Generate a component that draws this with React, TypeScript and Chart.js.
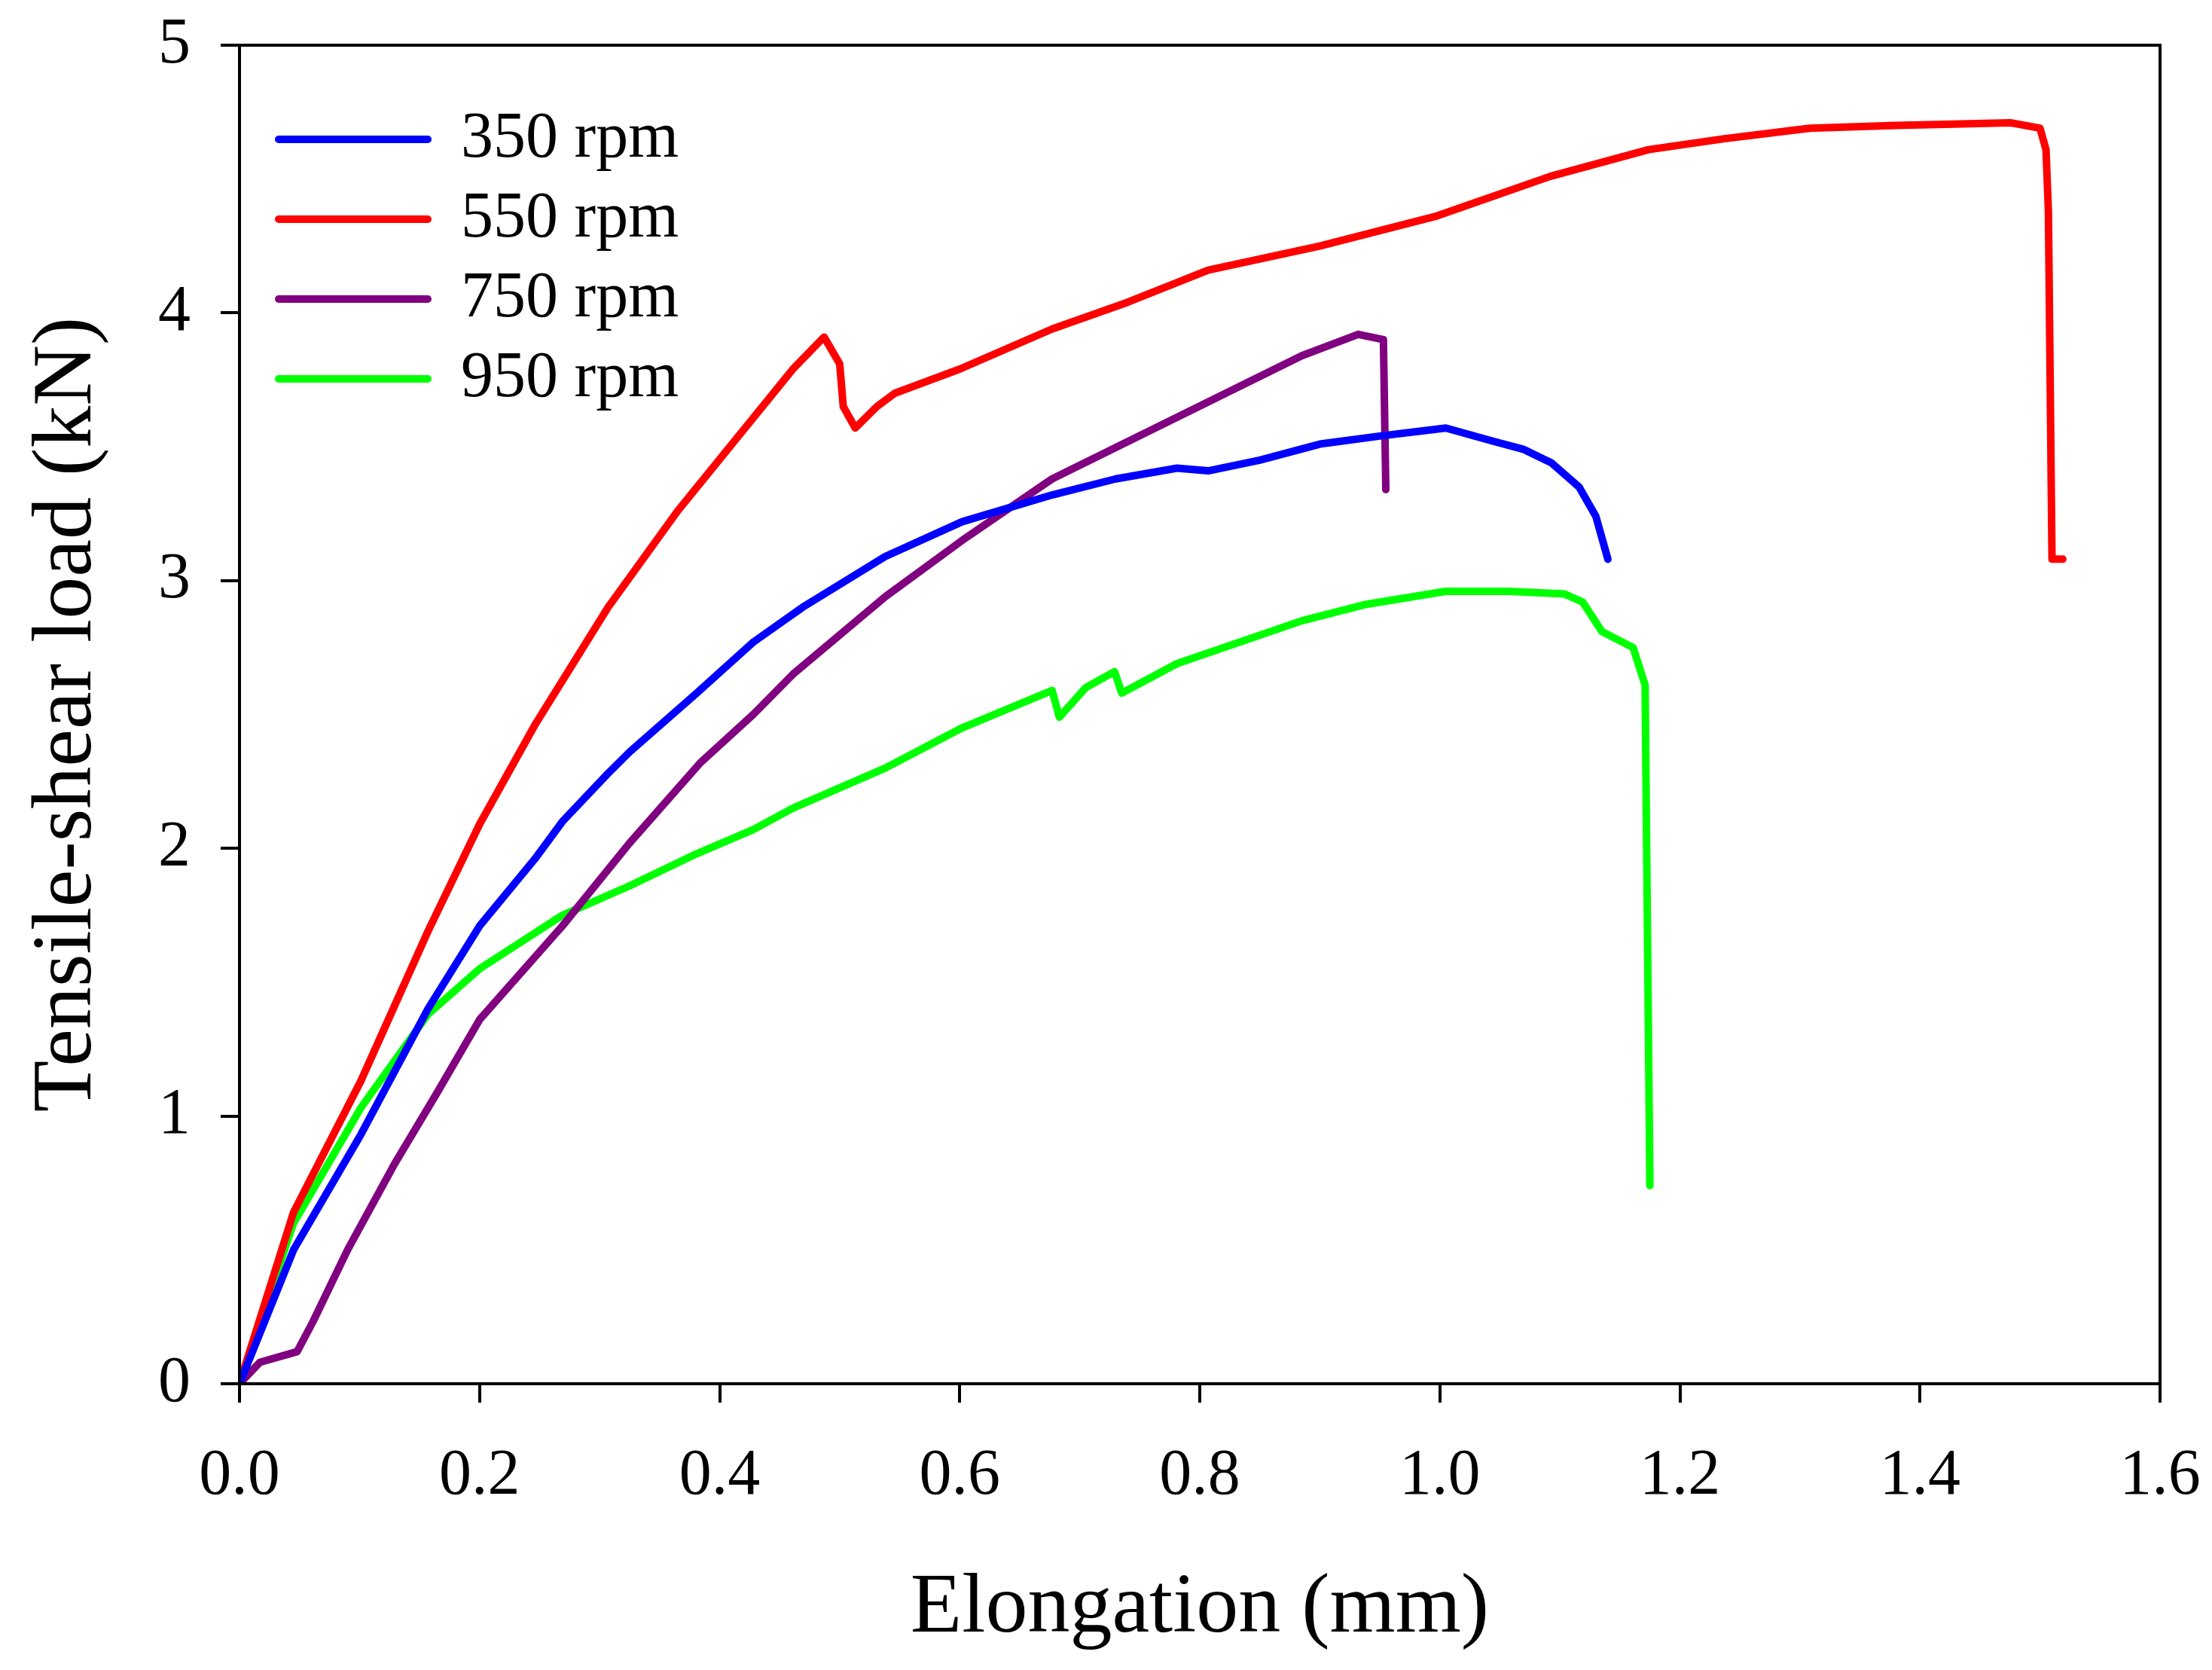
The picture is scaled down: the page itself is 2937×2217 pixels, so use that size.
import { useEffect, useRef } from 'react';
import Chart from 'chart.js/auto';

// elongation (mm), load (kN)
const rpm350: [number, number][] = [
    [0, 0], [0.045, 0.5], [0.101, 0.93], [0.157, 1.4], [0.2, 1.71], [0.246, 1.96],
    [0.269, 2.1], [0.307, 2.28], [0.325, 2.36], [0.381, 2.58], [0.428, 2.77],
    [0.469, 2.9], [0.538, 3.09], [0.602, 3.22], [0.677, 3.32], [0.73, 3.38],
    [0.781, 3.42], [0.807, 3.41], [0.85, 3.45], [0.9, 3.51], [0.95, 3.54],
    [1.005, 3.57], [1.045, 3.52], [1.07, 3.49], [1.093, 3.44], [1.116, 3.35],
    [1.13, 3.24], [1.14, 3.08]
];
const rpm550: [number, number][] = [
    [0, 0], [0.045, 0.64], [0.101, 1.13], [0.157, 1.69], [0.2, 2.09], [0.246, 2.46],
    [0.307, 2.9], [0.365, 3.26], [0.423, 3.58], [0.461, 3.79], [0.487, 3.91],
    [0.5, 3.81], [0.503, 3.65], [0.513, 3.57], [0.531, 3.65], [0.546, 3.7],
    [0.6, 3.79], [0.677, 3.94], [0.74, 4.04], [0.807, 4.16], [0.9, 4.25],
    [0.996, 4.36], [1.092, 4.51], [1.174, 4.61], [1.236, 4.65], [1.308, 4.69],
    [1.38, 4.7], [1.476, 4.71], [1.5, 4.69], [1.505, 4.61], [1.507, 4.38],
    [1.51, 3.08], [1.519, 3.08]
];
const rpm750: [number, number][] = [
    [0, 0], [0.017, 0.08], [0.048, 0.12], [0.061, 0.23], [0.09, 0.5], [0.129, 0.82],
    [0.165, 1.09], [0.2, 1.36], [0.269, 1.71], [0.325, 2.02], [0.384, 2.32],
    [0.428, 2.5], [0.461, 2.65], [0.538, 2.94], [0.602, 3.15], [0.677, 3.38],
    [0.781, 3.61], [0.885, 3.84], [0.932, 3.92], [0.953, 3.9], [0.955, 3.34]
];
const rpm950: [number, number][] = [
    [0, 0], [0.045, 0.6], [0.101, 1.03], [0.157, 1.38], [0.2, 1.55], [0.269, 1.75],
    [0.325, 1.86], [0.381, 1.98], [0.428, 2.07], [0.461, 2.15], [0.538, 2.3],
    [0.602, 2.45], [0.677, 2.59], [0.683, 2.49], [0.705, 2.6], [0.729, 2.66],
    [0.735, 2.58], [0.781, 2.69], [0.885, 2.85], [0.937, 2.91], [1.005, 2.96],
    [1.057, 2.96], [1.104, 2.95], [1.119, 2.92], [1.135, 2.81], [1.161, 2.75],
    [1.171, 2.61], [1.175, 0.74]
];

const seriesLabels = ['350 rpm', '550 rpm', '750 rpm', '950 rpm'];
const seriesData = [rpm350, rpm550, rpm750, rpm950];
const colors = ['#0000ff', '#ff0000', '#800080', '#00ff00'];

const FONT = '"Liberation Serif", "Times New Roman", serif';

// box round the plot and the legend inside it
const framePlugin = {
    id: 'frame',
    afterDraw(chart: Chart) {
        const { ctx, chartArea } = chart;
        ctx.save();
        ctx.strokeStyle = '#000';
        ctx.lineWidth = 4;
        ctx.strokeRect(chartArea.left, chartArea.top, chartArea.right - chartArea.left, chartArea.bottom - chartArea.top);

        ctx.font = `86px ${FONT}`;
        ctx.textBaseline = 'middle';
        ctx.textAlign = 'left';
        chart.data.datasets.forEach((ds, i) => {
            const y = 177 + i * 106;
            ctx.strokeStyle = ds.borderColor as string;
            ctx.lineWidth = 10;
            ctx.lineCap = 'round';
            ctx.beginPath();
            ctx.moveTo(chartArea.left + 52, y);
            ctx.lineTo(chartArea.left + 250, y);
            ctx.stroke();
            ctx.fillStyle = '#000';
            ctx.fillText(ds.label as string, chartArea.left + 294, y);
        });
        ctx.restore();
    }
};

const App = () => {
    const canvas = useRef<HTMLCanvasElement>(null);

    useEffect(() => {
        const chart = new Chart(
            // @ts-expect-error next
            canvas.current,
            {
                type: 'line',
                data: {
                    datasets: seriesData.map((d, i) => ({
                        label: seriesLabels[i],
                        data: d.map(([x, y]) => ({ x, y })),
                        borderColor: colors[i],
                        backgroundColor: colors[i],
                        borderWidth: 10,
                        pointRadius: 0,
                        tension: 0,
                        borderJoinStyle: 'round' as const,
                        borderCapStyle: 'round' as const
                    }))
                },
                options: {
                    animation: false,
                    responsive: true,
                    maintainAspectRatio: false,
                    devicePixelRatio: 1,
                    layout: { padding: { top: 52, right: 61, left: 0, bottom: 0 } },
                    plugins: {
                        legend: { display: false },
                        tooltip: { enabled: false }
                    },
                    scales: {
                        x: {
                            type: 'linear',
                            min: 0,
                            max: 1.6,
                            afterFit: (scale) => {
                                scale.height = 372;
                                scale.paddingLeft = 0;
                                scale.paddingRight = 0;
                            },
                            border: { color: '#000', width: 4 },
                            grid: { drawOnChartArea: false, drawTicks: true, tickLength: 25, color: '#000', lineWidth: 4 },
                            ticks: {
                                stepSize: 0.2,
                                color: '#000',
                                padding: 47,
                                font: { family: FONT, size: 86 },
                                callback: (v) => Number(v).toFixed(1)
                            },
                            title: {
                                display: true,
                                text: 'Elongation (mm)',
                                color: '#000',
                                font: { family: FONT, size: 112 },
                                padding: { top: 0, bottom: 5 }
                            }
                        },
                        y: {
                            min: 0,
                            max: 5,
                            afterFit: (scale) => {
                                scale.width = 310;
                                scale.paddingTop = 0;
                                scale.paddingBottom = 0;
                            },
                            border: { color: '#000', width: 4 },
                            grid: { drawOnChartArea: false, drawTicks: true, tickLength: 25, color: '#000', lineWidth: 4 },
                            ticks: {
                                stepSize: 1,
                                color: '#000',
                                padding: 40,
                                font: { family: FONT, size: 86 }
                            },
                            title: {
                                display: true,
                                text: 'Tensile-shear load (kN)',
                                color: '#000',
                                font: { family: FONT, size: 112 },
                                padding: { top: 15, bottom: 0 }
                            }
                        }
                    }
                },
                plugins: [framePlugin]
            }
        );

        return () => {
            chart.destroy();
        };
    }, []);

    return (
        <div style={{ width: '2921px', height: '2201px', position: 'relative', background: '#fff' }}>
            <canvas ref={canvas} role="img" aria-label="Tensile-shear load versus elongation"></canvas>
        </div>
    );
};

export default App;
